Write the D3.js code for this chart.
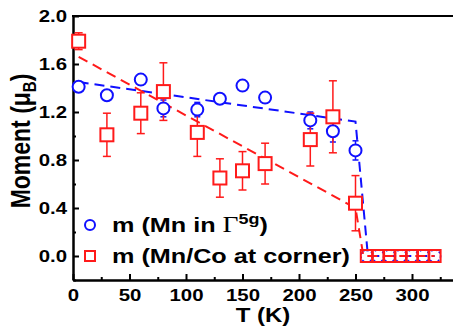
<!DOCTYPE html>
<meta charset="utf-8" />
<style>
  body { margin: 0; background: #fff; }
  text { font-family: "Liberation Sans", Arial, sans-serif; font-weight: bold; fill: #000; }
  .axis path, .axis line { stroke: #000; stroke-width: 2; }
  .axis text { font-size: 17px; }
</style>
<svg width="453" height="335"></svg>
<script src="https://d3js.org/d3.v7.min.js"></script>
<script>
  // temperatures (K) where both moments were refined
  var temps = [5, 30, 60, 80, 110, 130, 150, 170, 210, 230, 250];
  var mnMoment = [1.41, 1.34, 1.47, 1.23, 1.22, 1.31, 1.42, 1.32, 1.13, 1.04, 0.88];
  var mnErr = [0.03, 0.03, 0.03, 0.07, 0.06, 0.03, 0.03, 0.03, 0.07, 0.09, 0.08];
  var cornerMoment = [1.79, 1.01, 1.19, 1.37, 1.03, 0.65, 0.71, 0.77, 0.97, 1.16, 0.44];
  var cornerErr = [0.07, 0.18, 0.17, 0.24, 0.2, 0.16, 0.16, 0.17, 0.22, 0.3, 0.23];
  // above Tc both moments are zero
  var zeroTemps = [260, 270, 280, 290, 300, 310, 320];
  // dashed guide lines
  var mnGuide = [[5, 1.45], [250, 1.12], [261, 0], [320, 0]];
  var cornerGuide = [[5, 1.66], [250, 0.4], [257, 0], [320, 0]];
  var xTicks = [0, 50, 100, 150, 200, 250, 300];
  var yTicks = [0.0, 0.4, 0.8, 1.2, 1.6, 2.0];

  var SX = 1.2; // the picture is a bit wider than tall, text is stretched
  var blue = "#1010ff", red = "#ff1a1a";

  var svg = d3.select("svg");
  var x = d3.scaleLinear().domain([0, 340]).range([73, 73 + 340 * 1.13]);
  var y = d3.scaleLinear().domain([-0.2, 2.0]).range([280, 16]);

  // minor ticks
  svg.append("g").attr("class", "axis").attr("transform", "translate(0,280)")
    .call(d3.axisBottom(x).tickValues(d3.range(25, 340, 50)).tickSizeInner(-3).tickSizeOuter(0).tickFormat(""));
  svg.append("g").attr("class", "axis").attr("transform", "translate(73,0)")
    .call(d3.axisLeft(y).tickValues([-0.2, 0.2, 0.6, 1.0, 1.4, 1.8]).tickSizeInner(-3).tickSizeOuter(0).tickFormat(""));

  var xa = svg.append("g").attr("class", "axis").attr("transform", "translate(0,280)")
    .call(d3.axisBottom(x).tickValues(xTicks).tickSizeInner(-6).tickSizeOuter(0).tickPadding(9).tickFormat(d3.format("d")));
  var ya = svg.append("g").attr("class", "axis").attr("transform", "translate(73,0)")
    .call(d3.axisLeft(y).tickValues(yTicks).tickSizeInner(-6).tickSizeOuter(0).tickPadding(5).tickFormat(d3.format(".1f")));
  xa.selectAll("text").attr("transform", "scale(" + SX + ",1)");
  ya.selectAll("text").attr("transform", "scale(" + SX + ",1)");

  // top frame line
  svg.append("line").attr("x1", 72).attr("x2", 460).attr("y1", 16).attr("y2", 16)
    .attr("stroke", "#000").attr("stroke-width", 2);

  // axis titles
  svg.append("text").attr("transform", "translate(263,322) scale(" + SX + ",1)")
    .attr("text-anchor", "middle").style("font-size", "20px").text("T (K)");
  var yl = svg.append("text").attr("transform", "translate(30,141) rotate(-90) scale(1," + SX + ")")
    .attr("text-anchor", "middle").style("font-size", "23px");
  yl.append("tspan").text("Moment (\u03bc");
  yl.append("tspan").attr("dy", 5).style("font-size", "15px").text("B");
  yl.append("tspan").attr("dy", -5).text(")");

  // guide lines
  var line = d3.line().x(d => x(d[0])).y(d => y(d[1]));
  svg.append("path").attr("d", line(mnGuide)).attr("fill", "none")
    .attr("stroke", blue).attr("stroke-width", 2).attr("stroke-dasharray", "10,6");
  svg.append("path").attr("d", line(cornerGuide)).attr("fill", "none")
    .attr("stroke", red).attr("stroke-width", 2).attr("stroke-dasharray", "10,6");

  function errorBars(vals, errs, color, cap) {
    var g = svg.append("g").attr("stroke", color).attr("stroke-width", 1.5);
    temps.forEach(function (t, i) {
      var lo = y(vals[i] - errs[i]), hi = y(vals[i] + errs[i]);
      g.append("line").attr("x1", x(t)).attr("x2", x(t)).attr("y1", lo).attr("y2", hi);
      g.append("line").attr("x1", x(t) - cap).attr("x2", x(t) + cap).attr("y1", lo).attr("y2", lo);
      g.append("line").attr("x1", x(t) - cap).attr("x2", x(t) + cap).attr("y1", hi).attr("y2", hi);
    });
  }
  errorBars(mnMoment, mnErr, blue, 3);
  errorBars(cornerMoment, cornerErr, red, 4);

  // zero points above Tc
  svg.append("g").selectAll("circle").data(zeroTemps).join("circle")
    .attr("cx", d => x(d)).attr("cy", y(0)).attr("r", 6)
    .attr("fill", "none").attr("stroke", blue).attr("stroke-width", 1.5).attr("stroke-dasharray", "2,2");
  svg.append("g").selectAll("rect").data(zeroTemps).join("rect")
    .attr("x", d => x(d) - 6).attr("y", y(0) - 6).attr("width", 12).attr("height", 12)
    .attr("fill", "none").attr("stroke", red).attr("stroke-width", 2);

  // markers
  svg.append("g").selectAll("circle").data(temps).join("circle")
    .attr("cx", d => x(d)).attr("cy", (d, i) => y(mnMoment[i])).attr("r", 6)
    .attr("fill", "#fff").attr("stroke", blue).attr("stroke-width", 2);
  svg.append("g").selectAll("rect").data(temps).join("rect")
    .attr("x", d => x(d) - 6.5).attr("y", (d, i) => y(cornerMoment[i]) - 6.5)
    .attr("width", 13).attr("height", 13)
    .attr("fill", "#fff").attr("stroke", red).attr("stroke-width", 2);

  // legend
  svg.append("circle").attr("cx", 90).attr("cy", 225).attr("r", 5)
    .attr("fill", "#fff").attr("stroke", blue).attr("stroke-width", 2);
  svg.append("rect").attr("x", 85).attr("y", 251).attr("width", 10).attr("height", 10)
    .attr("fill", "#fff").attr("stroke", red).attr("stroke-width", 2);
  var l1 = svg.append("text").attr("transform", "translate(112,232) scale(" + SX + ",1)").style("font-size", "21px");
  l1.append("tspan").text("m (Mn in ");
  l1.append("tspan").style("font-family", "'Liberation Serif', serif").style("font-weight", "normal").style("font-size", "23px").text("\u0393");
  l1.append("tspan").attr("dy", -8).style("font-size", "15px").text("5g");
  l1.append("tspan").attr("dy", 8).text(")");
  svg.append("text").attr("transform", "translate(112,263) scale(" + SX + ",1)").style("font-size", "21px")
    .text("m (Mn/Co at corner)");
</script>
